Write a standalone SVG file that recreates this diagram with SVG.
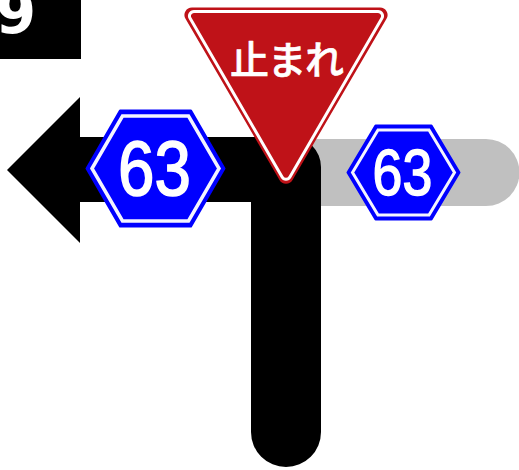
<svg xmlns="http://www.w3.org/2000/svg" width="519" height="470" viewBox="0 0 519 470">
<defs>
<style>
.hexo{fill:#0000ff;stroke:#0000ff;stroke-linejoin:round}
.hexl{fill:none;stroke:#f4f4ff;stroke-linejoin:miter}
.num{font-family:"Liberation Sans",Arial,sans-serif;fill:#fff;text-anchor:middle;stroke:#fff}
</style>
</defs>
<rect width="519" height="470" fill="#fff"/>
<g id="connectors">
<path id="gray-road" d="M286 139H486a33.500 33.500 0 0 1 0 67H286Z" fill="#c0c0c0"/>
<path id="black-road" d="M80 97V137H291a30 30 0 0 1 30 30V432a35 35 0 0 1-70 0V202H80V243L7 170Z" fill="#000"/>
</g>
<g id="badge">
<rect x="0" y="0" width="81" height="59" fill="#000"/>
<text x="16" y="33" font-family="'DejaVu Sans',sans-serif" font-weight="700" font-size="58" fill="#fff" text-anchor="middle">9</text>
</g>
<g id="route-sign-left">
<path class="hexo" stroke-width="2" d="M86.500 168.500L120 110.500H191L224.500 168.500L191 226.500H120Z"/>
<path class="hexl" stroke-width="3.500" d="M92 168.500L122.500 116H188.500L219 168.500L188.500 221H122.500Z"/>
<text class="num" transform="translate(154.500 194.500) scale(.84 1)" font-size="78" stroke-width="1.700">63</text>
</g>
<g id="route-sign-right">
<path class="hexo" stroke-width="2" d="M347.500 172.500L375.500 125.500H431.500L459.500 172.500L431.500 219.500H375.500Z"/>
<path class="hexl" stroke-width="3" d="M352.500 172.500L378 130H429L454.500 172.500L429 215H378Z"/>
<text class="num" transform="translate(402.500 194.500) scale(.84 1)" font-size="64" stroke-width="1.500">63</text>
</g>
<g id="stop-sign">
<path d="M192 7.500H380a7.500 7.500 0 0 1 6.500 11.300L292.500 180a7.500 7.500 0 0 1-13 0L185.500 18.800A7.500 7.500 0 0 1 192 7.500Z" fill="#bf1218"/>
<path d="M194 11.500H378a4.500 4.500 0 0 1 3.900 6.800L289.900 177a4.500 4.500 0 0 1-7.800 0L190.100 18.300A4.500 4.500 0 0 1 194 11.500Z" fill="none" stroke="#fff" stroke-width="3"/>
<text x="287" y="74" font-family="'Noto Sans CJK JP',sans-serif" font-weight="500" font-size="39" fill="#fff" stroke="#fff" stroke-width="0.600" stroke-linejoin="round" text-anchor="middle" textLength="114" lengthAdjust="spacing">止まれ</text>
</g>
</svg>
